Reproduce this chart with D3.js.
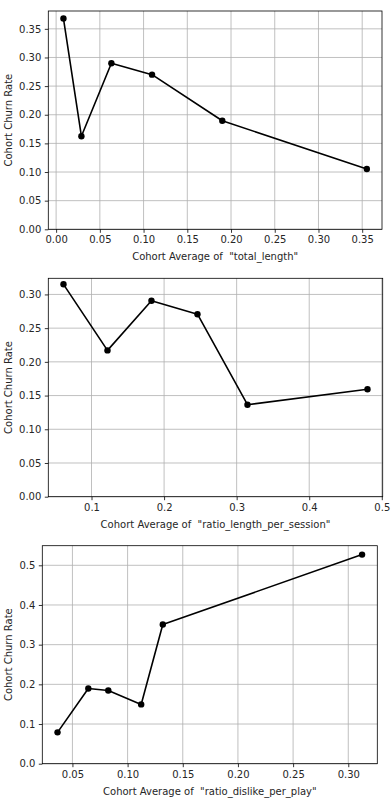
<!DOCTYPE html>
<html>
<head>
<meta charset="utf-8">
<script src="https://cdn.jsdelivr.net/npm/d3@7"></script>
<style>
  html, body { margin: 0; padding: 0; background: #fff; }
  svg { display: block; }
  text { font-family: "DejaVu Sans", sans-serif; fill: #262626; }
</style>
</head>
<body>
<svg id="chart" width="391" height="803"></svg>
<script>
// ---- Data ----
const xTotalLength = [0.0084, 0.0289, 0.0632, 0.1097, 0.1900, 0.3553];
const yTotalLength = [0.368, 0.1625, 0.290, 0.270, 0.1895, 0.1053];
const xTicksTotalLength = [0.00, 0.05, 0.10, 0.15, 0.20, 0.25, 0.30, 0.35];
const yTicksTotalLength = [0.00, 0.05, 0.10, 0.15, 0.20, 0.25, 0.30, 0.35];

const xRatioLength = [0.0614, 0.1220, 0.1826, 0.2460, 0.3149, 0.4803];
const yRatioLength = [0.315, 0.217, 0.2906, 0.2707, 0.1364, 0.1593];
const xTicksRatioLength = [0.1, 0.2, 0.3, 0.4, 0.5];
const yTicksRatioLength = [0.00, 0.05, 0.10, 0.15, 0.20, 0.25, 0.30];

const xRatioDislike = [0.0365, 0.0644, 0.0825, 0.1123, 0.1319, 0.3125];
const yRatioDislike = [0.079, 0.1897, 0.1846, 0.1494, 0.3508, 0.527];
const xTicksRatioDislike = [0.05, 0.10, 0.15, 0.20, 0.25, 0.30];
const yTicksRatioDislike = [0.0, 0.1, 0.2, 0.3, 0.4, 0.5];

const xLabels = ['Cohort Average of  "total_length"',
                 'Cohort Average of  "ratio_length_per_session"',
                 'Cohort Average of  "ratio_dislike_per_play"'];
const yLabel = "Cohort Churn Rate";

const panels = [
  {xs: xTotalLength, ys: yTotalLength, xt: xTicksTotalLength, yt: yTicksTotalLength, xf: ".2f", yf: ".2f",
   box: {l: 48.3, t: 11, r: 382, b: 229.3}, xl: xLabels[0]},
  {xs: xRatioLength, ys: yRatioLength, xt: xTicksRatioLength, yt: yTicksRatioLength, xf: ".1f", yf: ".2f",
   box: {l: 48.3, t: 278.3, r: 382.7, b: 496.7}, xl: xLabels[1]},
  {xs: xRatioDislike, ys: yRatioDislike, xt: xTicksRatioDislike, yt: yTicksRatioDislike, xf: ".2f", yf: ".1f",
   box: {l: 42.3, t: 545.7, r: 377.3, b: 763.7}, xl: xLabels[2]}
];

const svg = d3.select("#chart");

panels.forEach(p => {
  const b = p.box;
  const xmin = d3.min(p.xs), xmax = d3.max(p.xs);
  const ymax = d3.max(p.ys), ymin = d3.min(p.ys);
  const xm = (xmax - xmin) * 0.05, ym = (ymax - ymin) * 0.05;
  const x = d3.scaleLinear().domain([xmin - xm, xmax + xm]).range([b.l, b.r]);
  const y = d3.scaleLinear().domain([0, ymax + ym]).range([b.b, b.t]);

  const g = svg.append("g");

  // grid
  g.selectAll(".gx").data(p.xt).join("line")
    .attr("x1", d => x(d)).attr("x2", d => x(d))
    .attr("y1", b.t).attr("y2", b.b)
    .attr("stroke", "#b0b0b0").attr("stroke-width", 0.8);
  g.selectAll(".gy").data(p.yt).join("line")
    .attr("x1", b.l).attr("x2", b.r)
    .attr("y1", d => y(d)).attr("y2", d => y(d))
    .attr("stroke", "#b0b0b0").attr("stroke-width", 0.8);

  // axes
  const xAxis = d3.axisBottom(x).tickValues(p.xt).tickFormat(d3.format(p.xf)).tickSizeInner(3.5).tickSizeOuter(0).tickPadding(3.5);
  const yAxis = d3.axisLeft(y).tickValues(p.yt).tickFormat(d3.format(p.yf)).tickSizeInner(3.5).tickSizeOuter(0).tickPadding(3.5);
  const gx = g.append("g").attr("transform", `translate(0,${b.b})`).call(xAxis);
  const gy = g.append("g").attr("transform", `translate(${b.l},0)`).call(yAxis);
  [gx, gy].forEach(a => {
    a.select(".domain").remove();
    a.selectAll("line").attr("stroke", "#000").attr("stroke-width", 0.8);
    a.selectAll("text").attr("font-size", 10).attr("font-family", "DejaVu Sans").attr("fill", "#262626");
  });

  // frame
  g.append("rect").attr("x", b.l).attr("y", b.t).attr("width", b.r - b.l).attr("height", b.b - b.t)
    .attr("fill", "none").attr("stroke", "#000").attr("stroke-width", 0.8);

  // line + markers
  const pts = p.xs.map((v, i) => [v, p.ys[i]]);
  g.append("path").datum(pts)
    .attr("d", d3.line().x(d => x(d[0])).y(d => y(d[1])))
    .attr("fill", "none").attr("stroke", "#000").attr("stroke-width", 1.6).attr("stroke-linejoin", "round");
  g.selectAll(".pt").data(pts).join("circle")
    .attr("cx", d => x(d[0])).attr("cy", d => y(d[1])).attr("r", 3.2).attr("fill", "#000");

  // labels
  g.append("text").attr("x", (b.l + b.r) / 2).attr("y", b.b + 31)
    .attr("text-anchor", "middle").attr("font-size", 10).style("white-space", "pre").text(p.xl);
  g.append("text").attr("transform", `translate(12,${(b.t + b.b) / 2}) rotate(-90)`)
    .attr("text-anchor", "middle").attr("font-size", 10).text(yLabel);
});
</script>
</body>
</html>
